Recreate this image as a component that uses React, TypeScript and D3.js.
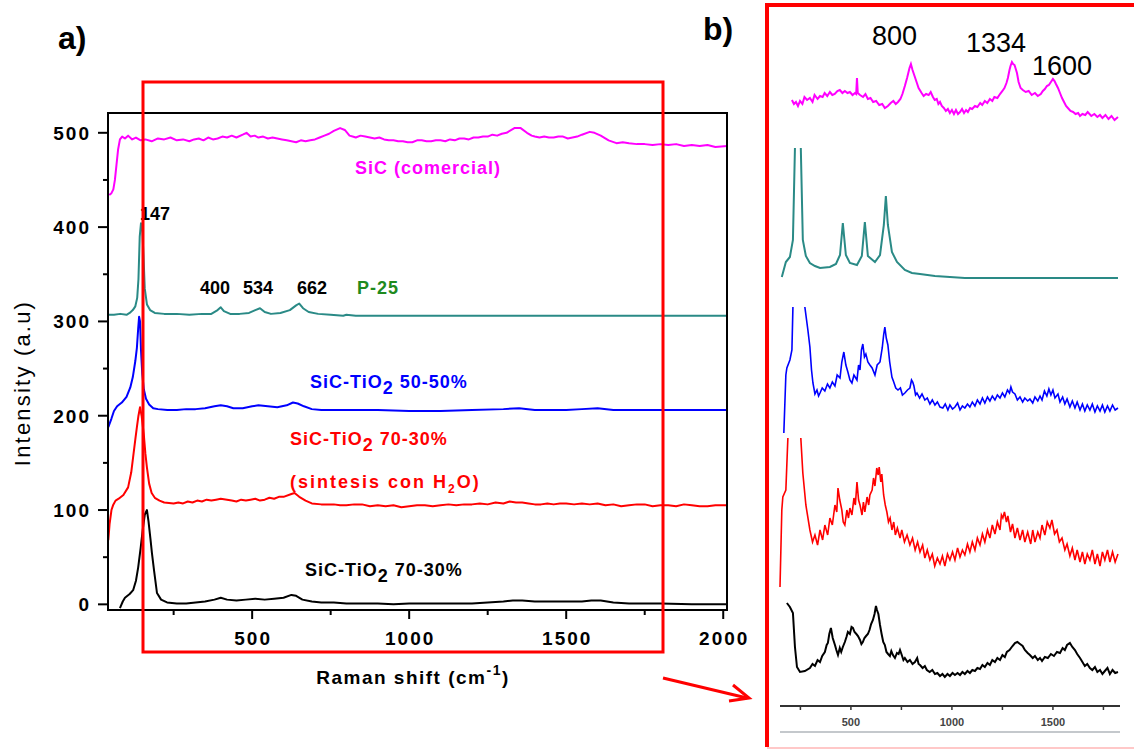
import React from 'react';
import * as d3 from 'd3';

type Pt = [number, number];

// ---- panel a: stacked Raman spectra (x = cm-1, y = a.u.) ----
const sicA: Pt[] = [[45,434],[52,436],[58,440],[63,450],[68,466],[73,482],[79,493],[86,496],[95,494],[105,497],[118,493],[130,495],[145,492],[160,493],[180,491],[200,494],[220,493],[240,495],[260,492],[280,493],[300,491],[315,493],[330,494],[345,492],[360,495],[375,493],[390,494],[405,496],[420,495],[435,497],[450,495],[470,498],[482,500],[495,496],[508,497],[520,495],[535,496],[550,494],[565,495],[580,494],[595,493],[610,492],[625,491],[640,490],[655,492],[670,491],[685,492],[700,493],[715,495],[730,497],[745,499],[760,502],[780,505],[795,503],[810,497],[820,496],[830,495],[845,497],[860,496],[875,495],[890,494],[905,495],[920,493],[935,492],[950,492],[965,491],[980,491],[995,490],[1010,490],[1025,492],[1040,492],[1055,491],[1070,491],[1085,492],[1100,492],[1115,491],[1130,493],[1145,492],[1160,494],[1175,494],[1190,493],[1205,495],[1220,495],[1235,496],[1250,496],[1265,498],[1280,497],[1295,499],[1310,500],[1335,505],[1355,505],[1375,500],[1390,497],[1400,496],[1415,495],[1430,496],[1445,495],[1460,495],[1475,496],[1490,496],[1505,494],[1520,495],[1535,496],[1550,498],[1575,501],[1590,500],[1610,497],[1635,492],[1660,489],[1680,490],[1700,489],[1725,488],[1750,488],[1775,487],[1800,488],[1825,487],[1850,488],[1875,486],[1900,487],[1925,486],[1950,487],[1975,485],[2012,486]];
const p25A: Pt[] = [[41,307],[60,307],[80,308],[100,307],[110,309],[120,312],[128,316],[134,325],[138,345],[142,390],[146,404],[150,398],[154,370],[158,335],[165,318],[175,312],[190,309],[220,308],[260,308],[300,307],[340,308],[370,308],[390,312],[400,315],[410,311],[430,308],[460,308],[490,309],[510,312],[525,314],[540,310],[560,308],[590,309],[620,312],[640,317],[650,319],[662,314],[680,310],[710,308],[750,307],[790,306],[800,307],[830,306],[870,306],[1000,306],[1200,306],[1400,306],[1600,306],[1800,306],[2012,306]];
const ti5050A: Pt[] = [[42,188],[52,197],[60,205],[70,210],[85,214],[100,220],[112,230],[120,241],[128,258],[133,272],[137,292],[140,305],[143,300],[146,270],[150,245],[155,228],[162,218],[172,212],[185,208],[200,207],[230,206],[260,206],[290,207],[320,207],[350,208],[380,210],[400,211],[420,210],[440,208],[470,208],[500,210],[520,211],[550,210],[580,209],[610,211],[630,214],[645,213],[665,210],[690,207],[720,206],[760,206],[800,206],[900,206],[1000,205],[1100,205],[1200,206],[1300,207],[1350,208],[1400,206],[1500,206],[1550,207],[1600,208],[1650,206],[1800,206],[2012,206]];
const ti7030h2oA: Pt[] = [[42,68],[46,85],[52,100],[57,105],[65,110],[75,112],[90,116],[105,124],[115,140],[121,156],[128,175],[133,188],[138,200],[143,209],[148,200],[155,180],[160,160],[165,145],[172,128],[180,118],[190,113],[205,110],[220,108],[250,107],[265,108],[280,107],[295,109],[310,108],[325,110],[340,109],[355,111],[370,110],[385,111],[400,112],[420,111],[435,110],[450,109],[465,111],[480,110],[495,111],[510,112],[525,110],[540,111],[555,113],[570,112],[585,114],[600,114],[625,117],[635,118],[650,114],[670,110],[690,107],[720,106],[760,106],[780,105],[800,105],[825,106],[850,106],[875,104],[900,105],[925,104],[950,105],[975,103],[1000,104],[1025,105],[1050,105],[1075,104],[1100,105],[1125,106],[1150,105],[1175,106],[1200,106],[1225,107],[1250,106],[1275,108],[1300,107],[1320,109],[1340,108],[1360,108],[1380,107],[1400,106],[1420,106],[1440,107],[1460,106],[1480,107],[1500,107],[1525,106],[1550,107],[1575,106],[1600,107],[1625,105],[1650,106],[1675,104],[1700,105],[1725,106],[1750,106],[1775,104],[1800,105],[1825,105],[1850,104],[1875,106],[1900,105],[1925,104],[1950,104],[1975,105],[2012,105]];
const ti7030A: Pt[] = [[79,-4],[88,3],[95,7],[110,11],[121,15],[130,25],[137,39],[145,60],[152,80],[158,95],[165,100],[170,88],[176,70],[181,54],[188,35],[197,12],[210,5],[229,2],[260,1],[290,1],[320,2],[350,3],[380,5],[400,7],[420,5],[450,4],[480,5],[510,6],[540,5],[570,6],[600,7],[625,10],[640,9],[660,5],[690,3],[720,2],[760,2],[800,1],[850,1],[900,1],[950,0],[1000,1],[1050,1],[1100,1],[1150,1],[1200,1],[1250,2],[1300,3],[1330,4],[1360,4],[1400,3],[1450,3],[1500,3],[1550,3],[1580,4],[1610,4],[1650,2],[1700,1],[1800,1],[1900,0],[2012,0]];

const yTicksA = [0, 100, 200, 300, 400, 500];
const yMinorA = [50, 150, 250, 350, 450];
const xTicksA = [500, 1000, 1500, 2000];
const xMinorA = [250, 750, 1250, 1750];

// ---- panel b: enlarged spectra, arbitrary offsets ----
const sicB: Pt[] = [[208,600],[218,596],[228,598],[238,594],[248,599],[260,596],[270,603],[283,600],[297,602],[310,598],[320,605],[335,601],[347,604],[360,603],[370,607],[383,604],[396,608],[408,605],[420,606],[433,609],[445,610],[458,607],[470,609],[483,607],[495,608],[508,605],[520,607],[526,606],[530,622],[534,607],[545,605],[560,603],[572,606],[584,601],[597,602],[610,598],[625,599],[640,595],[655,596],[668,592],[683,594],[697,597],[710,599],[722,596],[733,598],[745,601],[755,606],[767,614],[778,622],[790,632],[797,636],[805,630],[815,624],[825,618],[835,612],[850,607],[860,604],[872,606],[885,605],[895,608],[906,603],[915,600],[925,601],[933,596],[941,598],[950,594],[960,592],[970,589],[980,591],[990,587],[1000,590],[1010,586],[1020,590],[1030,586],[1040,588],[1050,591],[1060,587],[1070,590],[1079,588],[1090,592],[1100,591],[1114,594],[1126,593],[1140,597],[1150,595],[1163,599],[1175,597],[1188,601],[1200,599],[1210,603],[1225,602],[1238,606],[1250,609],[1260,612],[1270,617],[1277,622],[1285,630],[1290,634],[1297,638],[1303,636],[1310,635],[1316,631],[1322,627],[1330,618],[1340,612],[1351,610],[1365,608],[1380,609],[1395,605],[1411,607],[1425,604],[1440,606],[1450,609],[1460,611],[1470,614],[1480,615],[1490,618],[1500,621],[1508,619],[1515,616],[1525,612],[1535,607],[1545,602],[1555,598],[1565,594],[1574,592],[1587,589],[1600,588],[1612,586],[1625,587],[1634,584],[1646,586],[1660,585],[1672,588],[1690,584],[1705,586],[1720,583],[1733,585],[1745,582],[1760,585],[1775,581],[1790,584],[1805,580],[1822,583]];
const p25B: Pt[] = [[158,423],[178,438],[198,443],[213,460],[223,552],[238,600],[252,552],[262,460],[277,444],[297,437],[322,434],[347,432],[396,433],[426,436],[446,445],[460,477],[475,445],[495,437],[530,435],[554,444],[569,478],[584,444],[619,438],[644,445],[663,475],[673,504],[683,475],[703,448],[728,438],[767,430],[802,427],[842,426],[916,424],[1064,422],[1822,422]];
const ti5050B: Pt[] = [[168,267],[178,325],[183,332],[198,340],[208,350],[213,393],[240,480],[272,393],[287,370],[297,353],[305,330],[312,317],[322,306],[332,310],[340,304],[347,307],[358,312],[371,309],[384,316],[396,312],[408,318],[421,314],[432,325],[446,322],[455,338],[465,348],[475,335],[485,328],[495,320],[505,317],[515,325],[530,320],[538,335],[545,330],[552,350],[559,356],[567,343],[574,346],[584,338],[594,335],[605,332],[619,325],[630,335],[644,338],[655,352],[662,365],[668,373],[675,362],[683,355],[692,338],[703,323],[712,318],[722,312],[733,310],[745,312],[755,305],[767,307],[780,310],[792,312],[800,320],[806,318],[812,314],[820,305],[827,307],[840,302],[852,306],[866,300],[878,302],[891,296],[903,300],[916,295],[928,298],[941,293],[955,292],[967,296],[980,290],[990,295],[1003,291],[1015,293],[1028,297],[1040,290],[1052,294],[1064,292],[1077,296],[1089,293],[1101,298],[1114,294],[1126,300],[1139,296],[1151,302],[1163,297],[1176,303],[1188,299],[1200,304],[1213,300],[1225,305],[1238,302],[1250,307],[1262,303],[1275,310],[1285,307],[1292,313],[1300,308],[1312,306],[1324,300],[1337,303],[1350,298],[1361,302],[1375,299],[1386,301],[1400,297],[1411,303],[1425,299],[1436,304],[1446,300],[1458,309],[1470,304],[1480,311],[1490,305],[1500,310],[1510,302],[1525,306],[1535,298],[1548,303],[1559,296],[1570,301],[1584,293],[1596,299],[1609,292],[1620,298],[1634,290],[1646,296],[1658,289],[1670,295],[1683,290],[1695,296],[1708,288],[1720,294],[1733,289],[1745,295],[1757,288],[1770,294],[1782,289],[1795,295],[1808,290],[1822,292]];
const ti7030h2oB: Pt[] = [[149,113],[158,190],[163,203],[178,210],[188,262],[225,330],[252,262],[262,227],[277,195],[297,170],[310,158],[322,165],[335,155],[347,170],[360,160],[371,175],[385,165],[396,182],[408,175],[421,195],[430,188],[436,212],[445,200],[455,190],[462,178],[470,175],[480,190],[488,182],[495,192],[505,185],[515,202],[522,195],[530,218],[538,200],[545,195],[555,185],[562,198],[569,188],[580,203],[588,195],[594,205],[605,210],[612,222],[619,214],[628,232],[635,225],[640,233],[648,218],[653,226],[662,205],[670,195],[678,188],[686,178],[694,182],[703,170],[712,178],[720,165],[730,172],[743,162],[752,170],[765,158],[778,165],[792,155],[805,162],[818,150],[830,158],[842,148],[855,155],[866,142],[878,150],[891,140],[903,146],[915,134],[928,142],[941,136],[953,144],[965,134],[978,146],[990,140],[1003,148],[1015,140],[1028,152],[1040,143],[1052,150],[1064,145],[1077,156],[1089,148],[1101,158],[1114,150],[1126,162],[1139,155],[1151,166],[1163,158],[1176,170],[1188,162],[1200,175],[1213,166],[1225,178],[1238,170],[1245,185],[1252,182],[1260,188],[1270,178],[1277,184],[1290,168],[1300,176],[1312,162],[1324,172],[1337,160],[1350,170],[1361,158],[1375,168],[1390,156],[1400,170],[1411,158],[1425,168],[1436,162],[1446,175],[1460,165],[1472,178],[1485,172],[1495,180],[1508,166],[1520,170],[1532,158],[1545,162],[1559,150],[1570,156],[1584,144],[1596,152],[1609,140],[1620,150],[1634,138],[1646,148],[1658,136],[1670,146],[1683,140],[1695,150],[1708,136],[1720,146],[1733,134],[1745,148],[1757,140],[1770,150],[1782,138],[1795,148],[1808,138],[1822,146]];
const ti7030B: Pt[] = [[183,97],[198,93],[213,87],[223,53],[233,33],[248,28],[272,29],[297,32],[310,36],[322,34],[335,40],[347,38],[358,44],[371,48],[380,55],[386,57],[393,66],[401,72],[410,62],[421,55],[428,50],[436,45],[445,52],[452,48],[460,53],[470,58],[478,63],[485,68],[495,66],[503,73],[510,72],[518,68],[527,66],[535,64],[545,60],[552,56],[559,58],[567,62],[575,64],[584,66],[592,70],[600,76],[609,80],[617,86],[624,94],[629,90],[636,86],[644,75],[652,66],[660,58],[668,55],[676,48],[684,46],[693,44],[700,49],[708,45],[718,42],[728,47],[736,46],[743,50],[750,46],[760,40],[767,42],[780,38],[792,40],[805,36],[817,38],[828,42],[835,36],[842,35],[855,32],[866,34],[876,30],[890,28],[903,30],[916,26],[928,27],[941,24],[953,26],[965,23],[978,26],[990,24],[1003,27],[1015,25],[1028,27],[1040,25],[1052,28],[1064,26],[1077,29],[1089,27],[1101,30],[1114,29],[1126,32],[1139,31],[1151,35],[1163,33],[1176,37],[1188,35],[1200,40],[1213,38],[1225,42],[1238,40],[1250,45],[1262,43],[1272,48],[1285,50],[1300,54],[1312,57],[1324,58],[1337,56],[1350,54],[1361,50],[1375,47],[1386,45],[1400,42],[1411,44],[1425,40],[1436,42],[1446,39],[1460,43],[1475,42],[1490,46],[1505,44],[1520,48],[1535,47],[1548,52],[1559,50],[1570,55],[1584,57],[1596,53],[1609,50],[1620,46],[1634,42],[1646,38],[1658,34],[1670,36],[1683,32],[1695,30],[1708,33],[1720,28],[1733,30],[1745,26],[1757,29],[1770,32],[1782,26],[1795,30],[1808,27],[1822,28]];

const xTicksB = [500, 1000, 1500];
const xMinorB = [250, 750, 1250, 1750];
const peakLabelsB = ['800', '1334', '1600'];

const FONT = "'Liberation Sans', Arial, sans-serif";

export default function App() {
  // panel a scales
  const xA = d3.scaleLinear().domain([41, 2012]).range([108, 727]);
  const yA = d3.scaleLinear().domain([-6, 521]).range([610, 113]);
  const lineA = d3.line<Pt>().x(d => xA(d[0])).y(d => yA(d[1]));

  // panel b scales
  const xB = d3.scaleLinear().domain([149, 1832]).range([780, 1120]);
  const yB = d3.scaleLinear().domain([0, 660]).range([700, 40]);
  const lineB = d3.line<Pt>().x(d => xB(d[0])).y(d => yB(d[1]));

  const seriesA = [
    { d: sicA, c: '#ff00ff' },
    { d: p25A, c: '#2a8a86' },
    { d: ti5050A, c: '#0000ff' },
    { d: ti7030h2oA, c: '#ff0000' },
    { d: ti7030A, c: '#000000' },
  ];

  const lbl = { fontFamily: FONT, fontWeight: 700 as const, fontSize: 18, letterSpacing: 1 };

  return (
    <svg width={1134} height={749} style={{ position: 'absolute', left: 0, top: 0, background: '#fff' }}>
      <defs>
        <clipPath id="clipA"><rect x={108} y={113} width={619} height={497} /></clipPath>
        <clipPath id="clipTeal"><rect x={770} y={yB(552)} width={360} height={400} /></clipPath>
        <clipPath id="clipBlue"><rect x={770} y={yB(393)} width={360} height={400} /></clipPath>
        <clipPath id="clipRed"><rect x={770} y={yB(262)} width={360} height={400} /></clipPath>
      </defs>

      {/* panel letters */}
      <text x={58} y={49} fontFamily={FONT} fontWeight={700} fontSize={32}>a)</text>
      <text x={703} y={40} fontFamily={FONT} fontWeight={700} fontSize={32}>b)</text>

      {/* panel a spectra */}
      <g clipPath="url(#clipA)">
        {seriesA.map((s, i) => (
          <path key={i} d={lineA(s.d) ?? ''} fill="none" stroke={s.c} strokeWidth={2} strokeLinejoin="round" />
        ))}
      </g>

      {/* panel a frame and ticks */}
      <rect x={108} y={113} width={619} height={497} fill="none" stroke="#000" strokeWidth={2} />
      {yTicksA.map(t => (
        <g key={'yt' + t}>
          <line x1={98} x2={108} y1={yA(t)} y2={yA(t)} stroke="#000" strokeWidth={2} />
          <text x={91} y={yA(t) + 7} textAnchor="end" fontFamily={FONT} fontWeight={700} fontSize={19} letterSpacing={2}>{t}</text>
        </g>
      ))}
      {yMinorA.map(t => (
        <line key={'ym' + t} x1={103} x2={108} y1={yA(t)} y2={yA(t)} stroke="#000" strokeWidth={2} />
      ))}
      {xTicksA.map(t => (
        <g key={'xt' + t}>
          <line x1={xA(t)} x2={xA(t)} y1={610} y2={619} stroke="#000" strokeWidth={2} />
          <text x={xA(t) + 1} y={645} textAnchor="middle" fontFamily={FONT} fontWeight={700} fontSize={19} letterSpacing={2}>{t}</text>
        </g>
      ))}
      {xMinorA.map(t => (
        <line key={'xm' + t} x1={xA(t)} x2={xA(t)} y1={610} y2={615} stroke="#000" strokeWidth={2} />
      ))}
      <text x={413} y={684} textAnchor="middle" fontFamily={FONT} fontWeight={700} fontSize={19} letterSpacing={1.5}>
        Raman shift (cm<tspan dy={-9} fontSize={14}>-1</tspan><tspan dy={9}>)</tspan>
      </text>
      <text transform="translate(30,383) rotate(-90)" textAnchor="middle" fontFamily={FONT} fontSize={22} letterSpacing={2.2}>Intensity (a.u)</text>

      {/* panel a labels */}
      <text x={355} y={174} fill="#ff00ff" {...lbl}>SiC (comercial)</text>
      <text x={140} y={220} fill="#000" {...lbl} letterSpacing={0}>147</text>
      <text x={200} y={294} fill="#000" {...lbl} letterSpacing={0}>400</text>
      <text x={243} y={294} fill="#000" {...lbl} letterSpacing={0}>534</text>
      <text x={297} y={294} fill="#000" {...lbl} letterSpacing={0}>662</text>
      <text x={357} y={294} fill="#1f8a1f" {...lbl}>P-25</text>
      <text x={310} y={388} fill="#0000ff" {...lbl}>SiC-TiO<tspan dy={6}>2</tspan><tspan dy={-6}> 50-50%</tspan></text>
      <text x={290} y={445} fill="#ff0000" {...lbl}>SiC-TiO<tspan dy={6}>2</tspan><tspan dy={-6}> 70-30%</tspan></text>
      <text x={290} y={488} fill="#ff0000" {...lbl} letterSpacing={2}>(sintesis con H<tspan dy={5} fontSize={12}>2</tspan><tspan dy={-5}>O)</tspan></text>
      <text x={305} y={576} fill="#000" {...lbl}>SiC-TiO<tspan dy={6}>2</tspan><tspan dy={-6}> 70-30%</tspan></text>

      {/* red selection box and arrow */}
      <rect x={143} y={82} width={520} height={570} fill="none" stroke="#ff0000" strokeWidth={3} />
      <line x1={663} y1={678} x2={747} y2={698} stroke="#ff0000" strokeWidth={3} />
      <path d="M733,685 L749,698 L729,701" fill="none" stroke="#ff0000" strokeWidth={3} />

      {/* panel b box */}
      <path d="M1136,5 L767,5 L767,747" fill="none" stroke="#ff0000" strokeWidth={4} />
      <line x1={767} y1={748} x2={1136} y2={748} stroke="#ffc8c8" strokeWidth={2} />

      {/* panel b spectra */}
      <path d={lineB(sicB) ?? ''} fill="none" stroke="#ff00ff" strokeWidth={2} />
      <path d={lineB(p25B) ?? ''} fill="none" stroke="#2a8a86" strokeWidth={2} clipPath="url(#clipTeal)" />
      <path d={lineB(ti5050B) ?? ''} fill="none" stroke="#0000ff" strokeWidth={1.6} clipPath="url(#clipBlue)" />
      <path d={lineB(ti7030h2oB) ?? ''} fill="none" stroke="#ff0000" strokeWidth={1.6} clipPath="url(#clipRed)" />
      <path d={lineB(ti7030B) ?? ''} fill="none" stroke="#000" strokeWidth={2} />

      {/* panel b axis */}
      <line x1={780} x2={1120} y1={706} y2={706} stroke="#333" strokeWidth={2} />
      {xTicksB.concat(xMinorB).map(t => (
        <line key={'bt' + t} x1={xB(t)} x2={xB(t)} y1={706} y2={710} stroke="#333" strokeWidth={1.5} />
      ))}
      {xTicksB.map(t => (
        <text key={'bl' + t} x={xB(t)} y={726} textAnchor="middle" fontFamily={FONT} fontWeight={700} fontSize={11} fill="#444">{t}</text>
      ))}
      <line x1={780} x2={1120} y1={732} y2={732} stroke="#c4c8cc" strokeWidth={2} />

      {/* panel b peak labels */}
      <text x={872} y={45} fontFamily={FONT} fontSize={27}>{peakLabelsB[0]}</text>
      <text x={966} y={52} fontFamily={FONT} fontSize={27}>{peakLabelsB[1]}</text>
      <text x={1032} y={75} fontFamily={FONT} fontSize={27}>{peakLabelsB[2]}</text>
    </svg>
  );
}
